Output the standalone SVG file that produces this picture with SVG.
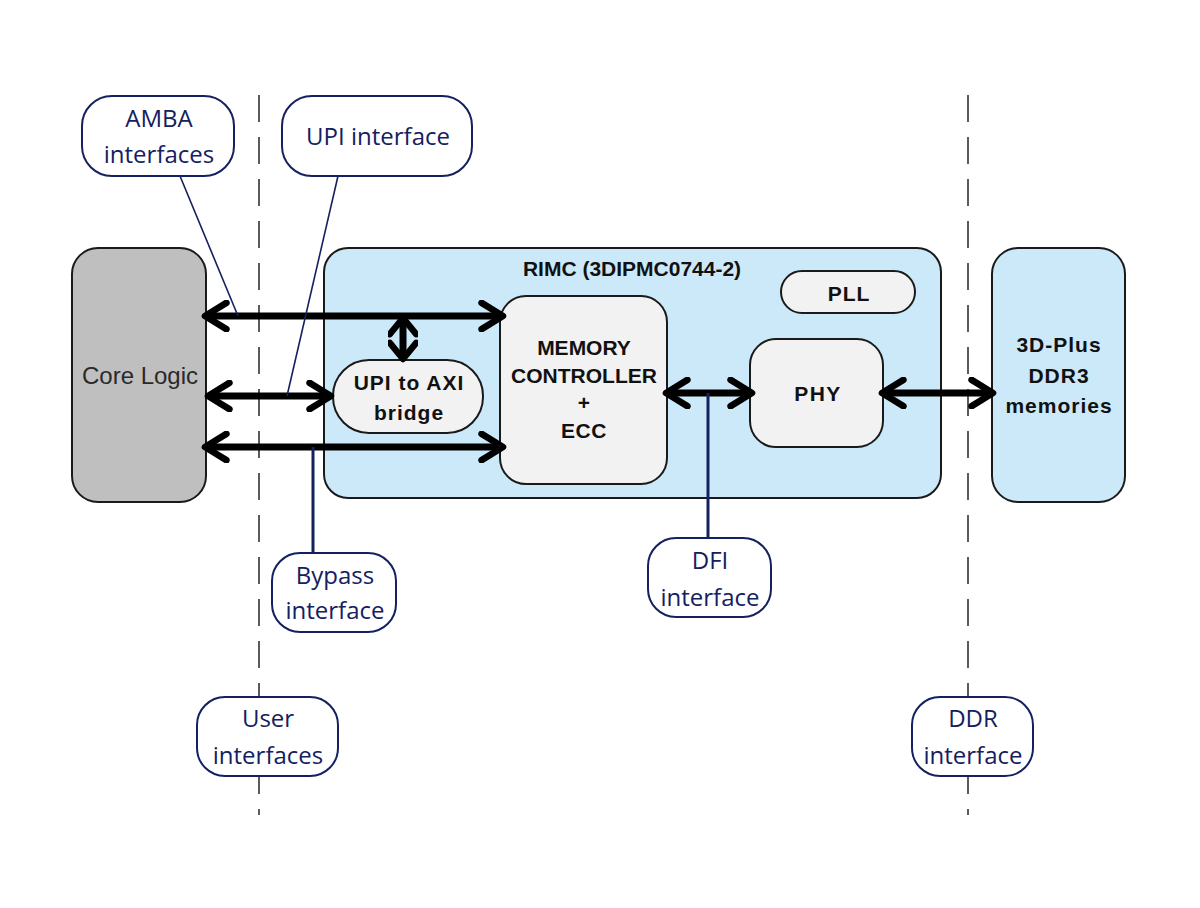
<svg xmlns="http://www.w3.org/2000/svg" width="1200" height="908" viewBox="0 0 1200 908">
<style>
.blk{stroke:#1a1a1a;stroke-width:2}
.lbl{fill:#fff;stroke:#14205f;stroke-width:2}
.lt{font-family:"Open Sans","Liberation Sans",sans-serif;font-size:24px;fill:#14205f;text-anchor:middle}
.bt{font-family:"Liberation Sans",Arial,sans-serif;font-weight:bold;font-size:21px;fill:#111;text-anchor:middle}
.bus{stroke:#000;stroke-width:7;fill:none}
.lead{stroke:#14205f;stroke-width:1.6;fill:none}
.lead3{stroke:#14205f;stroke-width:3;fill:none}
.dash{stroke:#333;stroke-width:1.6;stroke-dasharray:27 15}
</style>
<defs>
<marker id="ah" viewBox="0 0 20 20" refX="17" refY="10" markerWidth="4.7" markerHeight="4.7" markerUnits="strokeWidth" orient="auto-start-reverse">
<path d="M4,2 L17,10 L4,18" fill="none" stroke="#000" stroke-width="4" stroke-linecap="round" stroke-linejoin="round"/>
</marker>
<marker id="ahs" viewBox="0 0 20 20" refX="17" refY="10" markerWidth="4.2" markerHeight="4.2" markerUnits="strokeWidth" orient="auto-start-reverse">
<path d="M6,1 L17,10 L6,19" fill="none" stroke="#000" stroke-width="4.4" stroke-linecap="round" stroke-linejoin="round"/>
</marker>
</defs>
<rect width="1200" height="908" fill="#fff"/>
<g id="boundaries">
<line class="dash" x1="259" y1="95" x2="259" y2="815"/>
<line class="dash" x1="968" y1="95" x2="968" y2="815"/>
</g>
<g id="core-logic">
<rect class="blk" x="72" y="248" width="134" height="254" rx="26" fill="#bfbfbf"/>
<text x="140" y="384" font-family="Liberation Sans,Arial,sans-serif" font-size="24" fill="#2a2a2a" text-anchor="middle">Core Logic</text>
</g>
<g id="rimc">
<rect class="blk" x="324" y="248" width="617" height="250" rx="24" fill="#cce9f9"/>
<text class="bt" x="632" y="276" font-size="23">RIMC (3DIPMC0744-2)</text>
</g>
<g id="memories">
<rect class="blk" x="992" y="248" width="133" height="254" rx="26" fill="#cce9f9"/>
<text class="bt" x="1059" y="352" font-size="22" letter-spacing="1">3D-Plus</text>
<text class="bt" x="1059" y="383" font-size="22" letter-spacing="1">DDR3</text>
<text class="bt" x="1059" y="413" font-size="22" letter-spacing="1">memories</text>
</g>
<g id="memory-controller">
<rect class="blk" x="500" y="296" width="167" height="188" rx="26" fill="#f2f2f2"/>
<text class="bt" x="584" y="355">MEMORY</text>
<text class="bt" x="584" y="383">CONTROLLER</text>
<text class="bt" x="584" y="410">+</text>
<text class="bt" x="584" y="438" letter-spacing="0.5">ECC</text>
</g>
<g id="bridge">
<rect class="blk" x="333" y="360" width="150" height="73" rx="36" fill="#f2f2f2"/>
<text class="bt" x="409" y="390" font-size="22" letter-spacing="1">UPI to AXI</text>
<text class="bt" x="409" y="420" font-size="22" letter-spacing="1">bridge</text>
</g>
<g id="pll">
<rect class="blk" x="781" y="271" width="134" height="42" rx="21" fill="#f2f2f2"/>
<text class="bt" x="849" y="301" font-size="23" letter-spacing="1">PLL</text>
</g>
<g id="phy">
<rect class="blk" x="750" y="339" width="133" height="108" rx="26" fill="#f2f2f2"/>
<text class="bt" x="818" y="401" font-size="23" letter-spacing="1.5">PHY</text>
</g>
<g id="connectors">
<line class="bus" x1="205" y1="316" x2="503" y2="316" marker-start="url(#ah)" marker-end="url(#ah)"/>
<line class="bus" x1="208" y1="396" x2="331" y2="396" marker-start="url(#ah)" marker-end="url(#ah)"/>
<line class="bus" x1="205" y1="447" x2="503" y2="447" marker-start="url(#ah)" marker-end="url(#ah)"/>
<line class="bus" x1="403" y1="318" x2="403" y2="359" marker-start="url(#ahs)" marker-end="url(#ahs)"/>
<line class="bus" x1="666" y1="393" x2="752" y2="393" marker-start="url(#ah)" marker-end="url(#ah)"/>
<line class="bus" x1="882" y1="393" x2="993" y2="393" marker-start="url(#ah)" marker-end="url(#ah)"/>
<line class="lead" x1="180" y1="176" x2="238" y2="316"/>
<line class="lead" x1="338" y1="176" x2="287" y2="396"/>
<line class="lead3" x1="313" y1="447" x2="313" y2="553"/>
<line class="lead3" x1="708" y1="393" x2="708" y2="538"/>
</g>
<g id="amba-label">
<rect class="lbl" x="82" y="96" width="152" height="80" rx="30"/>
<text class="lt" x="159" y="127">AMBA</text>
<text class="lt" x="159" y="163">interfaces</text>
</g>
<g id="upi-label">
<rect class="lbl" x="282" y="96" width="190" height="80" rx="30"/>
<text class="lt" x="378" y="145">UPI interface</text>
</g>
<g id="bypass-label">
<rect class="lbl" x="272" y="553" width="124" height="79" rx="28"/>
<text class="lt" x="335" y="584">Bypass</text>
<text class="lt" x="335" y="619">interface</text>
</g>
<g id="dfi-label">
<rect class="lbl" x="648" y="538" width="123" height="79" rx="28"/>
<text class="lt" x="710" y="569">DFI</text>
<text class="lt" x="710" y="606">interface</text>
</g>
<g id="user-label">
<rect class="lbl" x="197" y="697" width="141" height="79" rx="28"/>
<text class="lt" x="268" y="727">User</text>
<text class="lt" x="268" y="764">interfaces</text>
</g>
<g id="ddr-label">
<rect class="lbl" x="912" y="697" width="121" height="79" rx="28"/>
<text class="lt" x="973" y="727">DDR</text>
<text class="lt" x="973" y="764">interface</text>
</g>
</svg>
